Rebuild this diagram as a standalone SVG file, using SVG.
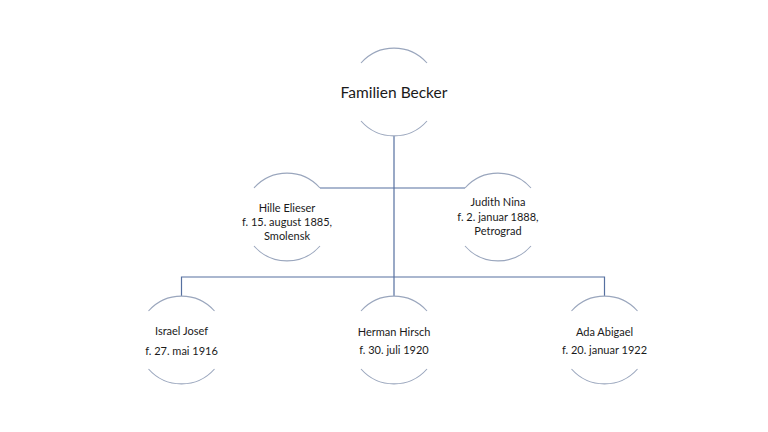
<svg xmlns="http://www.w3.org/2000/svg" xmlns:xlink="http://www.w3.org/1999/xlink" width="768" height="432" viewBox="0 0 768 432">
<style>
.arc{fill:none;stroke:#9aa6bd;stroke-width:1.1}
.con{fill:none;stroke:#5670a0;stroke-width:1.2}
.t{font-family:Lato,"Open Sans","Liberation Sans",sans-serif;fill:#1a1a1a;text-anchor:middle}
.big{font-size:15.5px}
.sm{font-size:11px}
</style>
<defs>
<g id="ring">
<path class="arc" d="M-33,-29 A44,44 0 0 1 33,-29"/>
<path class="arc" d="M-33,29 A44,44 0 0 0 33,29"/>
</g>
</defs>
<rect width="768" height="432" fill="#ffffff"/>
<g id="connectors">
<path class="con" d="M394,136 V277"/>
<path class="con" d="M320,188 H465"/>
<path class="con" d="M181.5,296 V277 H604.5 V296"/>
<path class="con" d="M394,277 V296"/>
</g>
<g id="familien-becker">
<use xlink:href="#ring" x="394" y="92"/>
<text class="t big" x="394" y="97.5">Familien Becker</text>
</g>
<g id="hille-elieser">
<use xlink:href="#ring" x="287" y="217"/>
<text class="t sm" x="287" y="212">Hille Elieser</text>
<text class="t sm" x="287" y="226">f. 15. august 1885,</text>
<text class="t sm" x="287" y="240">Smolensk</text>
</g>
<g id="judith-nina">
<use xlink:href="#ring" x="498" y="217"/>
<text class="t sm" x="498" y="206">Judith Nina</text>
<text class="t sm" x="498" y="221">f. 2. januar 1888,</text>
<text class="t sm" x="498" y="235">Petrograd</text>
</g>
<g id="israel-josef">
<use xlink:href="#ring" x="181.5" y="340"/>
<text class="t sm" x="181.5" y="335">Israel Josef</text>
<text class="t sm" x="181.5" y="355">f. 27. mai 1916</text>
</g>
<g id="herman-hirsch">
<use xlink:href="#ring" x="394" y="340"/>
<text class="t sm" x="394" y="336">Herman Hirsch</text>
<text class="t sm" x="394" y="354">f. 30. juli 1920</text>
</g>
<g id="ada-abigael">
<use xlink:href="#ring" x="604.5" y="340"/>
<text class="t sm" x="604.5" y="336">Ada Abigael</text>
<text class="t sm" x="604.5" y="354">f. 20. januar 1922</text>
</g>
</svg>
